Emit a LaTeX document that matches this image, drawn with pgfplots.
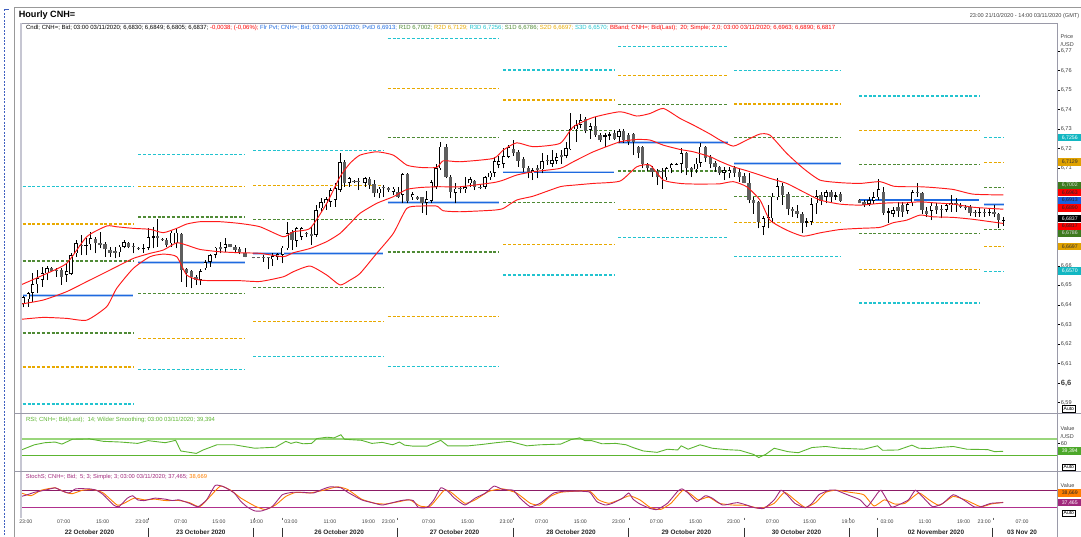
\documentclass[border=0pt]{standalone}
\usepackage{pgfplots}
\pgfplotsset{compat=1.18}
\usepackage{pgfplotstable}
\usepackage{graphicx}
\usepackage{fontspec}
\setmainfont{Liberation Sans}

\definecolor{cCyan}{HTML}{22C3CF}
\definecolor{cGold}{HTML}{E8A900}
\definecolor{cGreen}{HTML}{4F8A35}
\definecolor{cBlue}{HTML}{1E6AE0}
\definecolor{cBlueHalo}{HTML}{B4CCF2}
\definecolor{cRed}{HTML}{FF1A1A}
\definecolor{cDown}{HTML}{5E5E5E}
\definecolor{rsiG}{HTML}{5CB531}
\definecolor{rsiHi}{HTML}{9AD67C}
\definecolor{stK}{HTML}{A0287C}
\definecolor{stD}{HTML}{FF7F00}
\definecolor{stHi}{HTML}{8C1C66}
\definecolor{stLo}{HTML}{B0308E}
\definecolor{frameC}{HTML}{9A9AA8}
\definecolor{leftC}{HTML}{C6C6D2}
\definecolor{labgray}{HTML}{404040}
\definecolor{bCyan}{HTML}{12B7C2}
\definecolor{bGold}{HTML}{E0A200}
\definecolor{bGreen}{HTML}{3D7A1E}
\definecolor{bRed}{HTML}{FF0000}
\definecolor{bBlue}{HTML}{1A5FE0}
\definecolor{bRsi}{HTML}{4CA82A}
\definecolor{dashBlue}{HTML}{4060C0}

% candles: x position, open, high, low, close
\pgfplotstableread{
x o h l c
23.3 6.6404 6.6445 6.6387 6.6438
28.3 6.6428 6.6468 6.6391 6.6462
32.7 6.6462 6.6565 6.6416 6.6505
37.7 6.6505 6.6578 6.6459 6.6536
42.3 6.6527 6.6596 6.6493 6.6561
47.0 6.6561 6.6601 6.6527 6.6590
51.7 6.6590 6.6596 6.6570 6.6575
56.7 6.6578 6.6587 6.6544 6.6572
61.7 6.6578 6.6587 6.6502 6.6544
66.7 6.6553 6.6613 6.6519 6.6575
71.0 6.6558 6.6667 6.6553 6.6655
76.0 6.6664 6.6732 6.6647 6.6718
81.0 6.6709 6.6758 6.6655 6.6703
86.0 6.6703 6.6741 6.6655 6.6709
90.7 6.6710 6.6775 6.6681 6.6741
95.3 6.6736 6.6749 6.6664 6.6718
100.0 6.6715 6.6773 6.6689 6.6706
105.0 6.6712 6.6724 6.6647 6.6684
110.0 6.6681 6.6698 6.6647 6.6667
115.0 6.6676 6.6698 6.6638 6.6667
119.3 6.6669 6.6705 6.6647 6.6698
124.0 6.6698 6.6732 6.6689 6.6720
128.7 6.6718 6.6724 6.6689 6.6696
133.3 6.6700 6.6715 6.6664 6.6694
138.7 6.6692 6.6698 6.6681 6.6686
143.3 6.6686 6.6712 6.6667 6.6692
148.3 6.6693 6.6792 6.6681 6.6746
153.3 6.6744 6.6797 6.6689 6.6753
157.7 6.6753 6.6838 6.6698 6.6741
162.3 6.6738 6.6741 6.6729 6.6732
166.7 6.6732 6.6741 6.6698 6.6706
171.7 6.6715 6.6780 6.6698 6.6770
176.0 6.6715 6.6792 6.6689 6.6770
181.7 6.6763 6.6766 6.6519 6.6578
186.7 6.6582 6.6587 6.6493 6.6565
191.3 6.6575 6.6578 6.6485 6.6544
196.0 6.6544 6.6553 6.6502 6.6527
200.7 6.6527 6.6582 6.6502 6.6575
205.3 6.6587 6.6630 6.6578 6.6618
210.0 6.6621 6.6660 6.6596 6.6655
215.3 6.6655 6.6698 6.6638 6.6693
220.7 6.6694 6.6724 6.6664 6.6688
225.3 6.6693 6.6741 6.6672 6.6710
230.0 6.6710 6.6712 6.6694 6.6698
235.0 6.6694 6.6705 6.6664 6.6681
239.3 6.6684 6.6698 6.6660 6.6672
245.0 6.6664 6.6689 6.6643 6.6647
253.3 6.6645 6.6647 6.6638 6.6639
258.3 6.6645 6.6647 6.6640 6.6639
263.3 6.6645 6.6655 6.6621 6.6639
268.3 6.6645 6.6647 6.6582 6.6639
272.7 6.6633 6.6664 6.6599 6.6650
277.7 6.6647 6.6667 6.6630 6.6659
282.7 6.6655 6.6701 6.6613 6.6693
287.3 6.6689 6.6826 6.6681 6.6766
292.0 6.6775 6.6783 6.6681 6.6732
296.7 6.6729 6.6800 6.6698 6.6792
301.7 6.6749 6.6800 6.6732 6.6795
306.7 6.6769 6.6775 6.6746 6.6763
311.7 6.6761 6.6800 6.6706 6.6754
316.0 6.6758 6.6911 6.6749 6.6886
321.0 6.6894 6.6945 6.6877 6.6928
326.0 6.6920 6.6954 6.6886 6.6940
330.7 6.6928 6.6997 6.6903 6.6988
335.3 6.6937 6.7022 6.6903 6.6997
340.0 6.6988 6.7176 6.6980 6.7133
344.7 6.7133 6.7142 6.7005 6.7026
349.3 6.7026 6.7056 6.7005 6.7048
354.0 6.7035 6.7040 6.7026 6.7029
358.0 6.7035 6.7048 6.6988 6.7029
365.0 6.7026 6.7056 6.7005 6.7048
369.3 6.7043 6.7056 6.6996 6.7013
374.0 6.7019 6.7039 6.6954 6.6971
379.0 6.6971 6.7005 6.6945 6.6996
383.3 6.7003 6.7013 6.6954 6.6997
388.7 6.7001 6.7005 6.6979 6.6988
393.3 6.6979 6.7005 6.6962 6.6996
398.0 6.6979 6.7005 6.6945 6.6954
402.7 6.6962 6.7077 6.6920 6.7070
407.7 6.7070 6.7073 6.6920 6.6933
412.7 6.6950 6.6979 6.6937 6.6966
417.3 6.6954 6.6958 6.6937 6.6940
422.0 6.6950 6.6954 6.6872 6.6923
426.7 6.6923 6.6984 6.6860 6.6940
431.3 6.6931 6.7039 6.6920 6.7027
436.0 6.7005 6.7124 6.6996 6.7099
440.7 6.7099 6.7235 6.7090 6.7210
446.0 6.7206 6.7223 6.7048 6.7056
450.7 6.7056 6.7065 6.6945 6.6979
455.7 6.6974 6.7022 6.6920 6.6996
460.0 6.6999 6.7008 6.6971 6.6993
465.0 6.6991 6.7056 6.6974 6.7005
470.0 6.7022 6.7056 6.7005 6.7043
474.7 6.7034 6.7039 6.6988 6.7005
480.0 6.7004 6.7013 6.6991 6.6998
485.0 6.7005 6.7060 6.6996 6.7053
490.0 6.7053 6.7087 6.7039 6.7077
494.7 6.7077 6.7159 6.7056 6.7138
498.7 6.7116 6.7162 6.7099 6.7138
503.7 6.7121 6.7201 6.7099 6.7162
508.7 6.7159 6.7218 6.7150 6.7206
513.7 6.7198 6.7244 6.7162 6.7176
518.0 6.7181 6.7193 6.7107 6.7138
523.3 6.7147 6.7159 6.7082 6.7102
528.3 6.7102 6.7111 6.7048 6.7077
532.7 6.7073 6.7099 6.7039 6.7090
537.3 6.7099 6.7116 6.7048 6.7090
542.0 6.7094 6.7176 6.7073 6.7138
547.3 6.7141 6.7167 6.7116 6.7135
552.0 6.7124 6.7193 6.7107 6.7141
556.7 6.7138 6.7179 6.7121 6.7155
561.7 6.7167 6.7193 6.7124 6.7159
566.0 6.7162 6.7235 6.7150 6.7201
570.7 6.7196 6.7384 6.7193 6.7299
576.0 6.7299 6.7346 6.7235 6.7321
580.7 6.7321 6.7377 6.7304 6.7346
585.7 6.7350 6.7360 6.7278 6.7292
590.3 6.7295 6.7333 6.7252 6.7316
595.3 6.7316 6.7360 6.7261 6.7269
600.0 6.7269 6.7281 6.7235 6.7244
605.0 6.7258 6.7278 6.7210 6.7269
609.7 6.7264 6.7287 6.7244 6.7275
614.3 6.7281 6.7295 6.7244 6.7252
619.0 6.7261 6.7299 6.7227 6.7290
623.7 6.7290 6.7299 6.7230 6.7244
628.7 6.7269 6.7281 6.7218 6.7235
633.3 6.7273 6.7278 6.7167 6.7235
638.3 6.7206 6.7213 6.7150 6.7179
642.7 6.7210 6.7213 6.7099 6.7121
647.3 6.7121 6.7128 6.7087 6.7099
652.0 6.7099 6.7111 6.7056 6.7082
657.3 6.7085 6.7094 6.7013 6.7053
662.0 6.7085 6.7099 6.6996 6.7079
666.7 6.7053 6.7107 6.7039 6.7099
671.7 6.7099 6.7128 6.7073 6.7119
676.7 6.7118 6.7128 6.7116 6.7124
681.3 6.7121 6.7201 6.7073 6.7179
686.7 6.7176 6.7184 6.7065 6.7099
691.7 6.7102 6.7107 6.7056 6.7090
696.0 6.7094 6.7150 6.7073 6.7124
700.7 6.7128 6.7227 6.7107 6.7210
705.7 6.7210 6.7213 6.7133 6.7150
710.7 6.7159 6.7167 6.7099 6.7121
715.0 6.7128 6.7138 6.7082 6.7104
719.3 6.7104 6.7111 6.7065 6.7077
724.0 6.7077 6.7107 6.7039 6.7090
729.3 6.7073 6.7104 6.7048 6.7090
734.3 6.7099 6.7111 6.7056 6.7077
739.3 6.7082 6.7099 6.7031 6.7053
744.0 6.7060 6.7073 6.7022 6.7026
749.0 6.7026 6.7073 6.6920 6.6937
753.7 6.6937 6.6954 6.6868 6.6920
758.7 6.6928 6.6933 6.6792 6.6826
763.3 6.6800 6.6855 6.6757 6.6843
768.3 6.6843 6.6911 6.6792 6.6851
772.7 6.6843 6.6971 6.6817 6.6954
777.3 6.6950 6.7048 6.6937 6.7008
782.7 6.7008 6.7022 6.6911 6.6962
788.0 6.6967 6.6979 6.6860 6.6889
792.3 6.6889 6.6899 6.6851 6.6882
797.0 6.6880 6.6911 6.6843 6.6868
802.0 6.6868 6.6877 6.6766 6.6821
806.7 6.6821 6.6843 6.6800 6.6831
811.3 6.6826 6.6945 6.6809 6.6916
816.3 6.6920 6.6988 6.6868 6.6958
821.0 6.6962 6.6979 6.6911 6.6933
826.0 6.6954 6.6988 6.6920 6.6979
831.0 6.6979 6.6988 6.6928 6.6950
835.7 6.6954 6.6979 6.6937 6.6962
840.3 6.6967 6.6979 6.6928 6.6933
859.3 6.6937 6.6940 6.6920 6.6923
864.0 6.6928 6.6937 6.6903 6.6914
869.0 6.6916 6.6954 6.6906 6.6937
873.7 6.6933 6.6979 6.6916 6.6950
878.7 6.6950 6.7043 6.6937 6.6991
883.7 6.6979 6.7005 6.6860 6.6872
888.3 6.6872 6.6894 6.6821 6.6882
893.0 6.6868 6.6903 6.6851 6.6885
898.0 6.6903 6.6928 6.6851 6.6882
902.7 6.6911 6.6928 6.6851 6.6877
907.7 6.6882 6.6928 6.6868 6.6916
912.7 6.6920 6.6988 6.6906 6.6979
917.3 6.6977 6.7022 6.6954 6.6971
922.0 6.6971 6.6979 6.6868 6.6885
926.7 6.6880 6.6903 6.6851 6.6868
931.7 6.6882 6.6920 6.6834 6.6908
936.7 6.6906 6.6920 6.6868 6.6885
941.3 6.6891 6.6911 6.6843 6.6885
946.3 6.6885 6.6923 6.6877 6.6911
951.0 6.6911 6.6962 6.6877 6.6923
956.0 6.6923 6.6945 6.6877 6.6917
960.7 6.6914 6.6923 6.6894 6.6903
965.3 6.6903 6.6911 6.6885 6.6894
970.0 6.6899 6.6911 6.6855 6.6872
975.0 6.6875 6.6885 6.6851 6.6869
979.7 6.6869 6.6894 6.6851 6.6875
984.3 6.6875 6.6889 6.6851 6.6869
989.3 6.6869 6.6894 6.6855 6.6875
994.0 6.6877 6.6911 6.6848 6.6865
998.7 6.6868 6.6873 6.6792 6.6834
1003.3 6.6830 6.6849 6.6805 6.6837
}\candles

% Bollinger bands (20, 2.0): upper, middle, lower
\pgfplotstableread{
x U M L
20.7 6.6502 6.6404 6.6326
43.3 6.6553 6.6425 6.6336
66.7 6.6613 6.6468 6.6331
86.7 6.6749 6.6519 6.6322
106.7 6.6804 6.6570 6.6391
116.7 6.6800 6.6596 6.6485
133.3 6.6792 6.6638 6.6587
150.0 6.6787 6.6664 6.6647
163.3 6.6770 6.6681 6.6660
176.7 6.6792 6.6718 6.6647
186.7 6.6814 6.6706 6.6553
200.0 6.6826 6.6684 6.6527
220.0 6.6826 6.6672 6.6524
240.0 6.6817 6.6667 6.6524
260.0 6.6800 6.6664 6.6520
283.3 6.6749 6.6647 6.6544
293.3 6.6775 6.6667 6.6570
310.0 6.6792 6.6689 6.6599
326.7 6.6920 6.6724 6.6553
340.0 6.7056 6.6766 6.6502
350.0 6.7125 6.6817 6.6527
360.0 6.7167 6.6869 6.6561
376.7 6.7184 6.6920 6.6664
393.3 6.7167 6.6954 6.6766
406.7 6.7116 6.6991 6.6894
420.0 6.7104 6.7001 6.6906
436.7 6.7104 6.7005 6.6906
443.3 6.7138 6.7005 6.6882
460.0 6.7133 6.7005 6.6877
493.3 6.7150 6.7026 6.6885
503.3 6.7193 6.7039 6.6894
516.7 6.7230 6.7065 6.6937
533.3 6.7210 6.7082 6.6957
560.0 6.7227 6.7099 6.7005
573.3 6.7312 6.7133 6.7013
593.3 6.7360 6.7184 6.7022
620.0 6.7389 6.7235 6.7034
636.7 6.7367 6.7247 6.7107
650.0 6.7380 6.7244 6.7116
663.3 6.7406 6.7218 6.7039
680.0 6.7355 6.7196 6.7022
693.3 6.7321 6.7184 6.7019
710.0 6.7275 6.7159 6.7019
720.0 6.7244 6.7135 6.7020
733.3 6.7213 6.7107 6.7031
746.7 6.7244 6.7087 6.7005
760.0 6.7275 6.7065 6.6937
770.0 6.7269 6.7048 6.6834
786.7 6.7176 6.7022 6.6783
803.3 6.7099 6.6979 6.6752
820.0 6.7039 6.6937 6.6769
840.0 6.7026 6.6916 6.6786
860.0 6.7022 6.6911 6.6792
880.0 6.7031 6.6920 6.6797
893.3 6.7008 6.6923 6.6821
906.7 6.7005 6.6923 6.6834
920.0 6.7005 6.6928 6.6860
933.3 6.7001 6.6923 6.6851
953.3 6.6991 6.6916 6.6848
973.3 6.6967 6.6900 6.6838
1003.3 6.6963 6.6890 6.6817
}\bands

% daily floor pivots
\pgfplotstableread{
x R3 R2 R1 P S1 S2 S3
22.7 6.7007 6.6814 6.6625 6.6449 6.6256 6.6082 6.5893
133.3 6.7007 6.6814 6.6625 6.6449 6.6256 6.6082 6.5893
135.0 nan nan nan nan nan nan nan
138.3 6.7168 6.7007 6.6850 6.6618 6.6459 6.6227 6.6068
245.0 6.7168 6.7007 6.6850 6.6618 6.6459 6.6227 6.6068
249.0 nan nan nan nan nan nan nan
253.3 6.7192 6.7012 6.6838 6.6664 6.6487 6.6314 6.6137
383.3 6.7192 6.7012 6.6838 6.6664 6.6487 6.6314 6.6137
385.0 nan nan nan nan nan nan nan
387.7 6.7765 6.7509 6.7256 6.6925 6.6671 6.6342 6.6086
499.0 6.7765 6.7509 6.7256 6.6925 6.6671 6.6342 6.6086
501.0 nan nan nan nan nan nan nan
503.3 6.7603 6.7449 6.7294 6.7080 6.6925 6.6710 6.6553
614.0 6.7603 6.7449 6.7294 6.7080 6.6925 6.6710 6.6553
616.0 nan nan nan nan nan nan nan
618.3 6.7722 6.7574 6.7427 6.7233 6.7086 6.6890 6.6743
728.3 6.7722 6.7574 6.7427 6.7233 6.7086 6.6890 6.6743
731.0 nan nan nan nan nan nan nan
734.0 6.7601 6.7429 6.7256 6.7125 6.6954 6.6824 6.6650
840.7 6.7601 6.7429 6.7256 6.7125 6.6954 6.6824 6.6650
850.0 nan nan nan nan nan nan nan
859.0 6.7470 6.7294 6.7121 6.6937 6.6767 6.6582 6.6410
979.3 6.7470 6.7294 6.7121 6.6937 6.6767 6.6582 6.6410
981.0 nan nan nan nan nan nan nan
984.0 6.7256 6.7129 6.7002 6.6913 6.6786 6.6697 6.6570
1003.7 6.7256 6.7129 6.7002 6.6913 6.6786 6.6697 6.6570
}\pivots

% RSI 14
\pgfplotstableread{
x v
21.3 42.7
34.4 55.5
44.8 60.6
55.1 62.3
62.0 57.2
72.3 69.1
89.5 70.0
103.3 64.0
120.5 62.3
137.7 58.9
148.1 65.7
165.3 60.6
175.6 66.5
180.8 40.2
196.3 34.2
203.2 42.7
216.9 55.5
234.2 55.5
254.8 47.0
275.5 49.5
285.8 64.0
291.0 58.9
296.1 62.3
303.0 58.0
311.6 58.9
316.8 70.8
327.1 74.2
334.0 72.5
340.9 80.2
344.4 69.1
361.6 66.5
371.9 58.9
382.2 61.5
392.6 55.5
399.4 62.3
404.6 54.6
413.2 52.1
427.0 52.1
440.8 66.5
447.7 52.9
468.3 52.9
482.1 56.3
495.9 60.6
509.6 64.0
526.9 52.9
540.0 55.5
560.7 57.2
571.0 68.3
579.6 72.5
584.8 65.7
591.7 65.7
602.0 58.0
615.8 58.9
626.1 55.5
633.0 48.7
643.3 40.2
657.1 36.8
667.4 44.5
677.7 42.7
681.2 52.9
688.1 44.5
700.1 55.5
712.2 47.0
726.0 43.6
739.7 41.9
753.5 31.7
758.7 24.0
765.6 31.7
774.2 47.0
787.9 38.5
798.3 35.9
812.0 48.7
825.8 51.3
839.6 47.0
863.7 44.5
877.5 52.9
882.6 41.9
898.1 42.7
911.9 54.6
918.8 47.0
929.1 46.2
942.9 49.5
953.2 51.3
967.0 44.5
987.7 43.6
994.6 38.5
1003.2 39.4
}\rsi

% Stochastic %K
\pgfplotstableread{
x k
21.3 58.7
27.5 64.6
34.4 72.8
44.8 79.9
55.1 88.1
60.3 79.9
68.9 70.5
75.8 84.6
89.5 84.6
96.4 79.9
103.3 64.6
113.6 29.4
118.8 23.5
127.4 52.9
132.6 61.1
137.7 47.0
144.6 44.7
155.0 52.9
165.3 49.4
172.2 44.7
179.1 47.0
189.4 35.3
198.0 23.5
206.6 47.0
215.2 96.3
223.8 91.6
234.2 70.5
241.0 41.1
247.9 21.2
254.8 9.4
261.7 9.4
272.0 23.5
282.4 64.6
292.7 72.8
303.0 72.8
313.4 70.5
323.7 84.6
330.6 91.6
340.9 88.1
347.8 72.8
361.6 47.0
371.9 37.6
382.2 29.4
392.6 37.6
401.2 44.7
406.3 47.0
413.2 44.7
418.4 21.2
427.0 21.2
433.9 47.0
440.8 88.1
447.7 76.4
454.5 52.9
464.9 29.4
475.2 52.9
485.5 70.5
494.1 94.0
502.8 82.2
513.1 79.9
520.0 52.9
530.3 23.5
540.0 35.3
546.9 52.9
553.8 70.5
564.1 76.4
581.3 76.4
589.9 72.8
596.8 41.1
605.4 29.4
612.3 35.3
622.6 52.9
628.8 70.5
633.0 49.4
639.9 32.9
650.2 17.7
657.1 14.1
667.4 35.3
677.7 76.4
681.9 84.6
688.1 70.5
696.7 41.1
705.3 61.1
712.2 52.9
722.5 29.4
732.8 35.3
738.0 37.6
746.6 29.4
753.5 21.2
763.8 17.7
774.2 47.0
781.0 79.9
787.9 61.1
794.8 35.3
805.2 20.0
812.0 35.3
818.9 64.6
829.3 79.9
836.1 79.9
843.0 70.5
849.9 61.1
860.2 47.0
867.1 23.5
874.0 52.9
880.9 79.9
891.2 23.5
898.1 29.4
908.5 47.0
915.3 79.9
922.2 58.7
932.6 23.5
942.9 35.3
953.2 64.6
963.6 47.0
973.9 23.5
980.8 23.5
991.1 35.3
1003.2 37.5
}\stochK

% Stochastic %D
\pgfplotstableread{
x d
21.3 70.5
31.0 61.1
41.3 79.9
55.1 88.1
65.4 72.8
72.3 68.1
82.6 79.9
93.0 82.2
103.3 70.5
117.1 29.4
124.0 35.3
134.3 52.9
144.6 47.0
155.0 49.4
165.3 44.7
179.1 44.7
189.4 37.6
199.7 23.5
210.1 58.7
220.4 94.0
230.7 79.9
241.0 52.9
254.8 25.9
265.2 14.1
275.5 29.4
285.8 58.7
296.1 72.8
309.9 70.5
323.7 79.9
337.5 91.6
347.8 82.2
361.6 49.4
375.3 35.3
385.7 32.9
399.4 41.1
409.8 47.0
420.1 25.9
430.4 25.9
444.2 79.9
451.1 72.8
464.9 35.3
475.2 47.0
489.0 76.4
502.8 84.6
516.5 70.5
530.3 35.3
540.0 29.4
550.3 58.7
560.7 72.8
574.4 76.4
589.9 76.4
598.5 47.0
608.9 35.3
619.2 47.0
629.5 61.1
639.9 47.0
650.2 21.2
660.5 14.1
670.9 35.3
682.9 79.9
691.5 64.6
698.4 47.0
708.7 56.4
719.1 35.3
732.8 29.4
746.6 28.2
760.4 17.7
774.2 35.3
784.5 72.8
794.8 47.0
805.2 21.2
815.5 37.6
825.8 72.8
836.1 79.9
849.9 72.8
863.7 64.6
874.0 25.9
884.4 47.0
894.7 32.9
905.0 35.3
918.8 70.5
929.1 47.0
939.4 28.2
953.2 58.7
967.0 44.7
980.8 23.5
991.1 32.9
1003.2 38.7
}\stochD

\pgfplotsset{
  panel/.style={scale only axis, width=1037pt, xmin=20, xmax=1057,
    axis line style={draw=none}, clip=true, unbounded coords=jump,
    tick align=outside, every tick/.style={black, line width=0.5pt},
    xtick=\empty, anchor=north west},
  body/.style={draw=none, mark=none, forget plot,
    error bars/y dir=plus, error bars/y explicit, error bars/error mark=none},
  rs/.style={line width=1.15pt, dash pattern=on 3pt off 1.8pt, mark=none},
}
\newcommand{\valbox}[4]{\node[fill=#2, text=#3, font=\fontsize{5.2}{5.5}\selectfont, inner xsep=0.6pt, inner ysep=0pt, minimum height=7.4pt, minimum width=23.5pt, anchor=west] at (1057.8,#1) {#4};}
\newcommand{\autobox}[1]{\node[draw=black, line width=0.5pt, fill=white, font=\fontsize{5}{5}\selectfont, inner xsep=1pt, inner ysep=0.6pt, minimum height=6.4pt] at (1068.8,#1) {Auto};}

\begin{document}
\begin{tikzpicture}
\useasboundingbox (0,0) rectangle (1081pt,-537pt);

% ---------------- main price panel ----------------
\begin{axis}[panel, at={(20pt,-23pt)}, height=390pt,
  ymin=6.58466, ymax=6.78434,
  ytick={6.59,6.6,6.61,6.62,6.63,6.64,6.65,6.66,6.67,6.68,6.69,6.7,6.71,6.72,6.73,6.74,6.75,6.76,6.77},
  yticklabels={{6,59},{\fontsize{7.6}{8}\selectfont\bfseries 6,6},{6,61},{6,62},{6,63},{6,64},{6,65},{6,66},{},{},{},{},{6,71},{6,72},{6,73},{6,74},{6,75},{6,76},{6,77}},
  ytick pos=right, yticklabel pos=right, major tick length=3pt,
  yticklabel style={font=\fontsize{5.6}{6}\selectfont, text=labgray, inner sep=0.6pt},
]
% pivot levels
\addplot[rs, cCyan] table[x=x,y=R3]{\pivots};
\addplot[rs, cGold] table[x=x,y=R2]{\pivots};
\addplot[rs, cGreen] table[x=x,y=R1]{\pivots};
\addplot[cBlueHalo, line width=2.6pt, mark=none] table[x=x,y=P]{\pivots};
\addplot[cBlue, line width=1.1pt, mark=none] table[x=x,y=P]{\pivots};
\addplot[rs, cGreen] table[x=x,y=S1]{\pivots};
\addplot[rs, cGold] table[x=x,y=S2]{\pivots};
\addplot[rs, cCyan] table[x=x,y=S3]{\pivots};
% candles: wicks
\addplot[body, error bars/error bar style={draw=black, line width=0.9pt}]
  table[x=x, y=l, y error expr=\thisrow{h}-\thisrow{l}]{\candles};
% up bodies (black outline, white inside)
\addplot[body, restrict expr to domain={\thisrow{c}-\thisrow{o}}{0:1},
  error bars/error bar style={draw=black, line width=3.4pt}]
  table[x=x, y=o, y error expr=\thisrow{c}-\thisrow{o}]{\candles};
\addplot[body, restrict expr to domain={\thisrow{c}-\thisrow{o}}{0.0012:1},
  error bars/error bar style={draw=white, line width=1.8pt}]
  table[x=x, y expr=\thisrow{o}+0.0004, y error expr=\thisrow{c}-\thisrow{o}-0.0008]{\candles};
% down bodies
\addplot[body, restrict expr to domain={\thisrow{o}-\thisrow{c}}{0.00001:1},
  error bars/error bar style={draw=cDown, line width=3.4pt}]
  table[x=x, y=c, y error expr=\thisrow{o}-\thisrow{c}]{\candles};
% Bollinger bands
\addplot[cRed, line width=0.95pt, mark=none, smooth, tension=0.35] table[x=x,y=U]{\bands};
\addplot[cRed, line width=0.95pt, mark=none, smooth, tension=0.35] table[x=x,y=M]{\bands};
\addplot[cRed, line width=0.95pt, mark=none, smooth, tension=0.35] table[x=x,y=L]{\bands};
\end{axis}

% ---------------- RSI panel ----------------
\begin{axis}[panel, at={(20pt,-413pt)}, height=58.3pt,
  ymin=-10, ymax=134, ytick={60}, yticklabels={60},
  ytick pos=right, yticklabel pos=right, major tick length=3pt,
  yticklabel style={font=\fontsize{5.6}{6}\selectfont, text=labgray, inner sep=0.6pt, yshift=-0.8pt},
]
\addplot[rsiHi, line width=1.8pt, mark=none] coordinates {(20,70) (1057,70)};
\addplot[rsiG, line width=0.9pt, mark=none] coordinates {(20,30) (1057,30)};
\addplot[rsiG, line width=0.9pt, mark=none] table[x=x,y=v]{\rsi};
\end{axis}

% ---------------- Stochastic panel ----------------
\begin{axis}[panel, at={(20pt,-471.3pt)}, height=45.7pt,
  ymin=-11.4, ymax=144.4, ytick=\empty,
  xtick={25.8,63.7,102.6,141.9,180.8,219.0,256.5,291.0,329.9,368.5,388.4,428.7,467.6,506.2,541.7,580.3,618.5,656.4,695.6,733.5,772.4,809.6,848.2,887.1,925.0,963.6,984.2,1022.1},
  xticklabels={23:00,07:00,15:00,23:00,07:00,15:00,19:00,03:00,11:00,19:00,23:00,07:00,15:00,23:00,07:00,15:00,23:00,07:00,15:00,23:00,07:00,15:00,19:00,03:00,11:00,19:00,23:00,07:00},
  xtick pos=bottom, xticklabel pos=bottom, major tick length=0pt,
  xticklabel style={font=\fontsize{5.2}{5.5}\selectfont, text=labgray, inner sep=0pt, anchor=north, yshift=-2.6pt},
]
\addplot[stHi, line width=0.8pt, mark=none] coordinates {(20,80) (1057,80)};
\addplot[stLo, line width=0.8pt, mark=none] coordinates {(20,20) (1057,20)};
\addplot[stD, line width=0.9pt, mark=none, smooth, tension=0.3] table[x=x,y=d]{\stochD};
\addplot[stK, line width=0.9pt, mark=none, smooth, tension=0.3] table[x=x,y=k]{\stochK};
\end{axis}

% ---------------- frame, labels, boxes (pixel coordinates) ----------------
\begin{scope}[x=1pt, y=-1pt]
  % outer frame
  \draw[gray!80, line width=0.7pt] (14,7.3) -- (1081,7.3);
  \draw[gray!80, line width=0.7pt] (14,7.3) -- (14,537);
  \draw[dashBlue, line width=0.7pt, dash pattern=on 2pt off 1.4pt] (4.7,9.5) -- (4.7,537);
  \draw[dashBlue, line width=0.7pt] (4.7,9.5) -- (8.5,9.5);
  % panel frames
  \draw[frameC, line width=0.6pt] (20,23) -- (1057.5,23);
  \draw[frameC, line width=0.8pt] (1057.5,23) -- (1057.5,537);
  \draw[leftC, line width=1.8pt] (20.6,23) -- (20.6,518);
  \draw[frameC, line width=0.8pt] (14,413) -- (1081,413);
  \draw[frameC, line width=0.8pt] (14,471.3) -- (1081,471.3);

  % title and header texts
  \node[anchor=west, inner sep=0pt] at (18.6,15.3) {\resizebox{56.5pt}{!}{\bfseries Hourly CNH=}};
  \node[anchor=east, inner sep=0pt, font=\fontsize{5.6}{6}\selectfont, text=labgray] at (1079.5,16.2) {23:00 21/10/2020 - 14:00 03/11/2020 (GMT)};
  \node[anchor=west, inner sep=0pt] at (25.9,28.4) {\resizebox{809pt}{!}{\fontsize{5.5}{6}\selectfont
    \textcolor{black}{Cndl; CNH=; Bid; 03:00 03/11/2020; 6,6830; 6,6849; 6,6805; 6,6837;}
    \textcolor{bRed}{-0,0038; (-0,06\%);}
    \textcolor{cBlue}{Flr Pvt; CNH=; Bid; 03:00 03/11/2020; PvtD 6,6913;}
    \textcolor{cGreen}{R1D 6,7002;}
    \textcolor{cGold}{R2D 6,7129;}
    \textcolor{cCyan}{R3D 6,7256;}
    \textcolor{cGreen}{S1D 6,6786;}
    \textcolor{cGold}{S2D 6,6697;}
    \textcolor{cCyan}{S3D 6,6570;}
    \textcolor{bRed}{BBand; CNH=; Bid(Last);\ \ 20; Simple; 2,0; 03:00 03/11/2020; 6,6963; 6,6890; 6,6817}}};
  \node[anchor=west, inner sep=0pt] at (25.8,419.6) {\resizebox{189pt}{!}{\fontsize{5.5}{6}\selectfont\textcolor{rsiG}{RSI; CNH=; Bid(Last);\ \ 14; Wilder Smoothing; 03:00 03/11/2020; 39,394}}};
  \node[anchor=west, inner sep=0pt] at (25.8,477.5) {\resizebox{181pt}{!}{\fontsize{5.5}{6}\selectfont\textcolor{stK}{StochS; CNH=; Bid;\ \ 5; 3; Simple; 3; 03:00 03/11/2020; 37,465;} \textcolor{stD}{38,669}}};

  % right-side axis captions
  \node[anchor=west, inner sep=0pt, font=\fontsize{5.5}{6}\selectfont, text=labgray] at (1060.5,36.5) {Price};
  \node[anchor=west, inner sep=0pt, font=\fontsize{5.5}{6}\selectfont, text=labgray] at (1060.5,44.5) {/USD};
  \node[anchor=west, inner sep=0pt, font=\fontsize{5.5}{6}\selectfont, text=labgray] at (1060.5,428.6) {Value};
  \node[anchor=west, inner sep=0pt, font=\fontsize{5.5}{6}\selectfont, text=labgray] at (1060.5,436.6) {/USD};
  \node[anchor=west, inner sep=0pt, font=\fontsize{5.5}{6}\selectfont, text=labgray] at (1060.5,486) {Value};

  % value boxes
  \valbox{137.7}{bCyan}{white}{6,7256}
  \valbox{162.0}{bGold}{black!80}{6,7129}
  \valbox{185.3}{bGreen}{white!85!black}{6,7002}
  \valbox{192.7}{bRed}{black!85}{6,6963}
  \valbox{200.5}{bBlue}{black!85}{6,6913}
  \valbox{208.2}{bRed}{black!85}{6,6890}
  \valbox{218.7}{black}{white}{6,6837}
  \valbox{226.3}{bRed}{black!85}{6,6817}
  \valbox{233.5}{bGreen}{white!85!black}{6,6786}
  \valbox{246.7}{bGold}{black!80}{6,6697}
  \valbox{271.0}{bCyan}{white}{6,6570}
  \valbox{451.0}{bRsi}{white}{39,394}
  \valbox{493.0}{stD}{black!85}{38,669}
  \valbox{502.6}{stK}{white}{37,465}

  \autobox{408.9}
  \autobox{467.2}
  \autobox{513.0}

  % day separators and date labels
  \foreach \s in {148.1,253.8,282.4,397.7,513.1,628.8,743.9,849.2,877.5,992.8}{
    \draw[black!80, line width=0.8pt] (\s,527.5) -- (\s,537);
    \draw[black!60, line width=0.5pt] (\s,517.5) -- (\s,520.2);
  }
  \foreach \p/\t in {89.5/22 October 2020, 200.8/23 October 2020, 339.2/26 October 2020, 454.5/27 October 2020, 571.0/28 October 2020, 686.4/29 October 2020, 796.5/30 October 2020, 936.0/02 November 2020, 1022.0/03 Nov 20}{
    \node[inner sep=0pt, font=\fontsize{6.4}{7}\selectfont\bfseries, text=black!85] at (\p,532.3) {\t};
  }
\end{scope}
\end{tikzpicture}
\end{document}
